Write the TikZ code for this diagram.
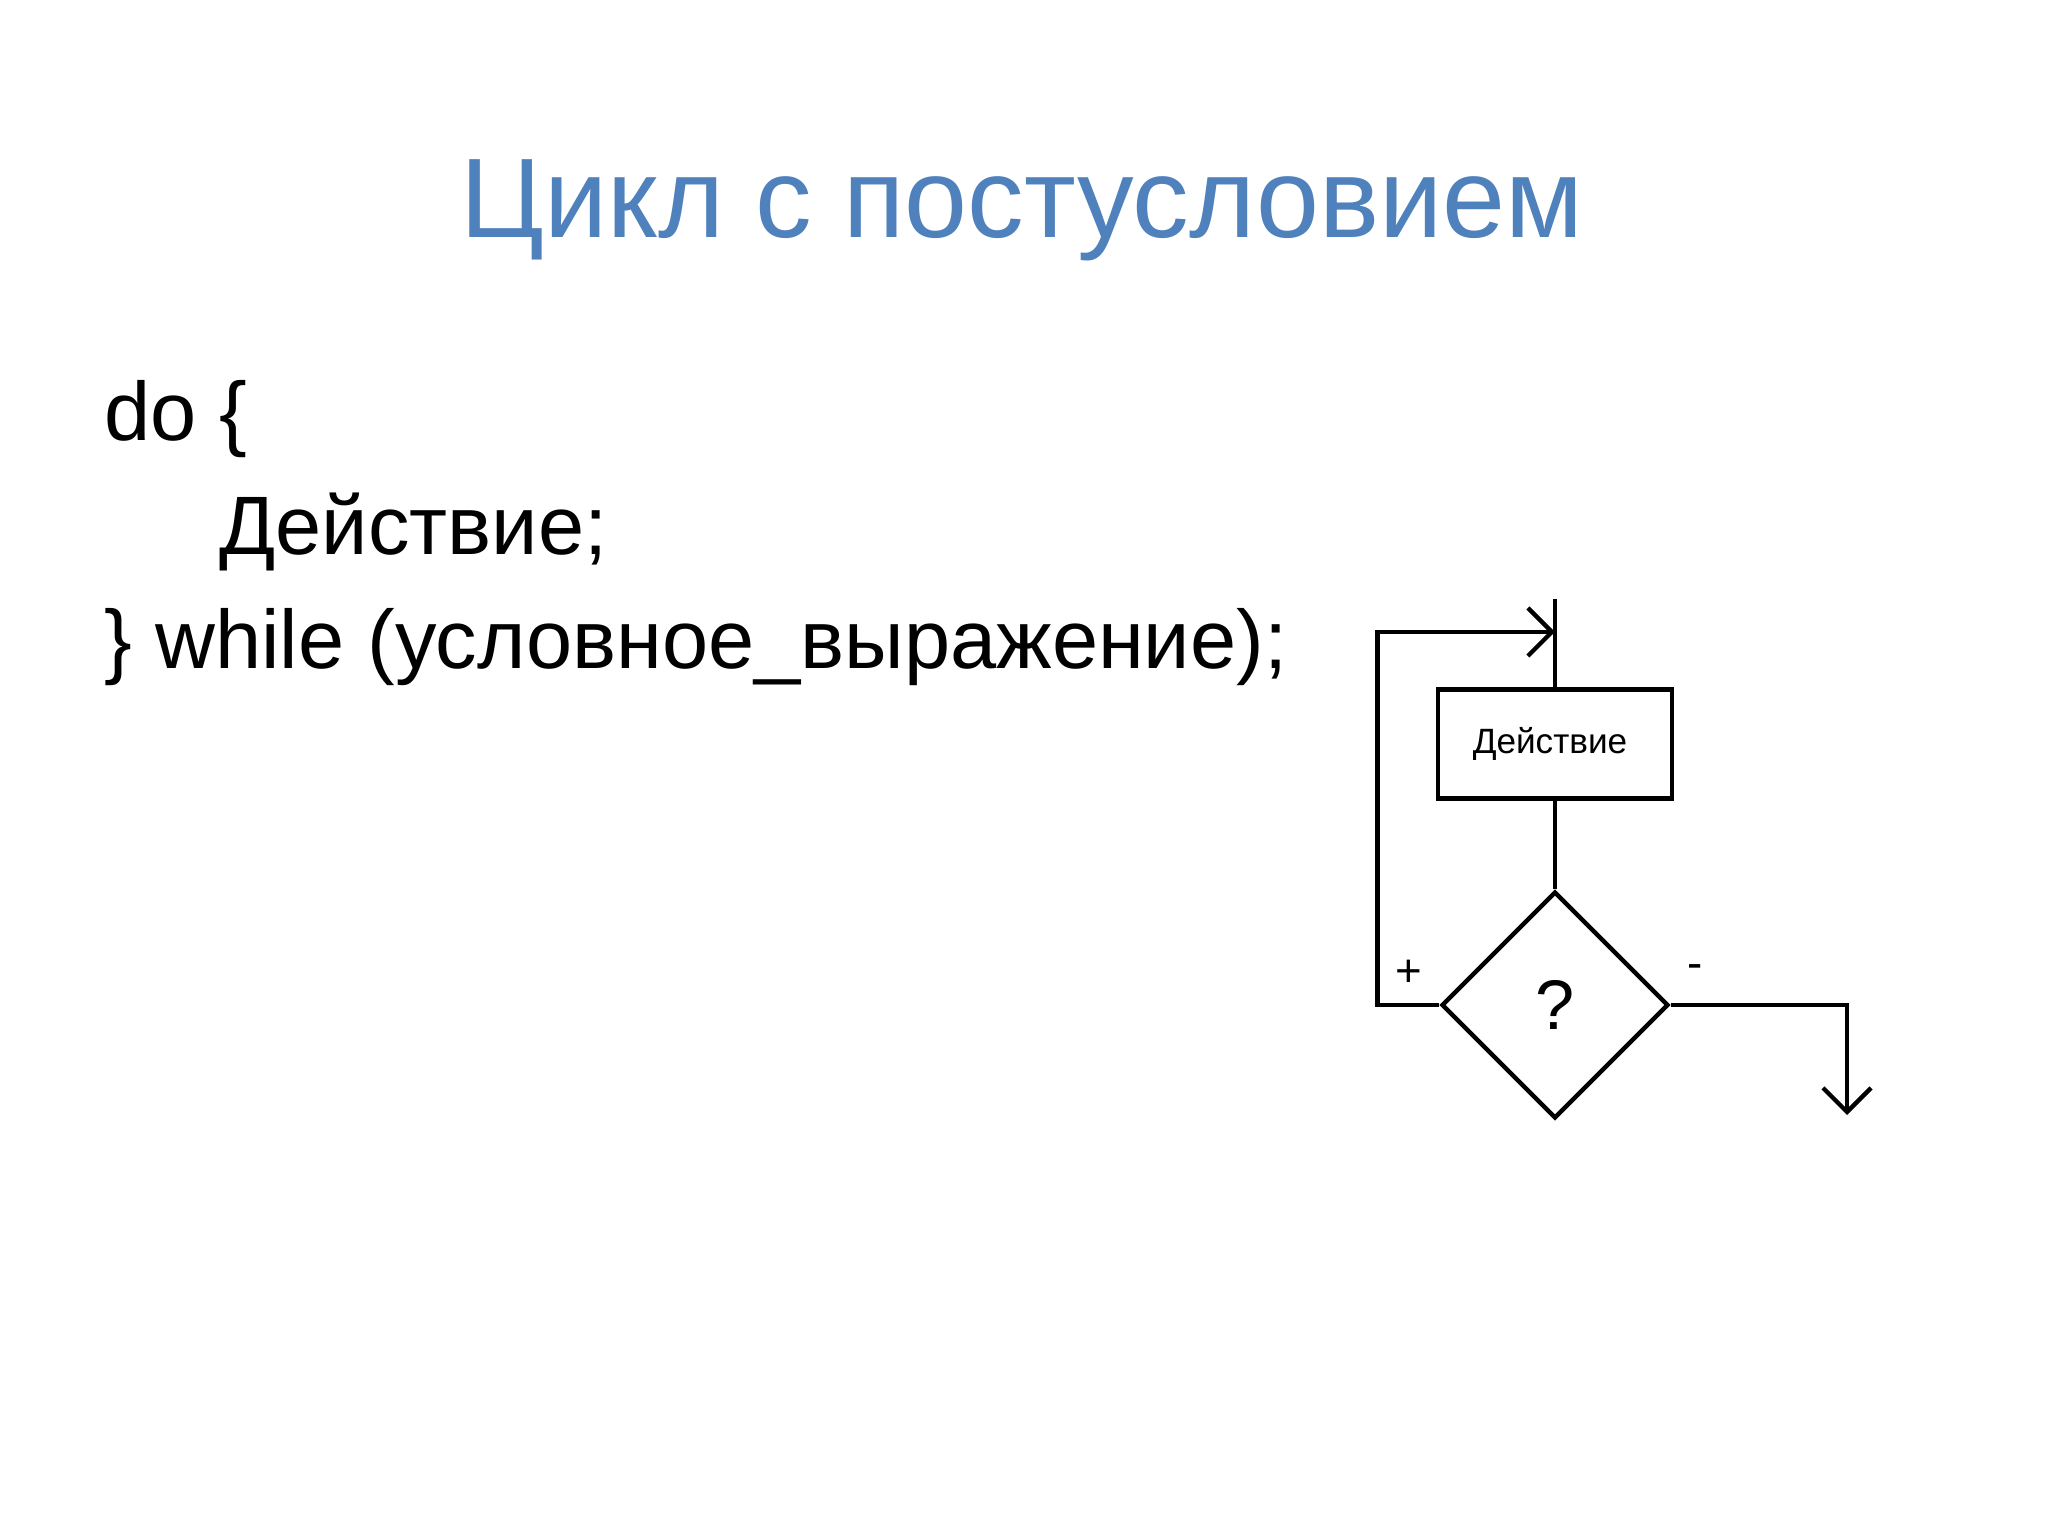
\documentclass[tikz,border=0pt]{standalone}
\usepackage{fontspec}
\setmainfont{Liberation Sans}
\usepackage{xcolor}
\usepackage{tikz}
\usetikzlibrary{shapes,arrows.meta,positioning,calc}

\definecolor{titleblue}{RGB}{79,129,189}

\begin{document}
\begin{tikzpicture}[
    block/.style={rectangle, draw=black, line width=1.25pt, minimum width=2.34cm, minimum height=1.09cm, inner sep=0pt, font=\fontsize{10}{12}\selectfont},
    decision/.style={diamond, draw=black, line width=1.25pt, minimum width=2.27cm, minimum height=2.27cm, inner sep=0pt, font=\fontsize{20}{24}\selectfont},
    code/.style={anchor=base west, inner sep=0pt, font=\fontsize{23.6}{28}\selectfont},
    sign/.style={inner sep=0pt, font=\fontsize{13}{15}\selectfont},
    line/.style={line width=1.25pt},
    arrow/.style={line width=1.25pt, -{Straight Barb[length=0.24cm, width=0.48cm]}}
]
    \useasboundingbox (0,0) rectangle (20.48,15.35);

    % Title
    \node[anchor=base, inner sep=0pt, text=titleblue, font=\fontsize{32.2}{38}\selectfont] (title) at (10.22,12.97) {Цикл с постусловием};

    % Code
    \node[code] (line1) at (1.04,10.94) {do \{};
    \node[code] (line2) at (2.19,9.80) {Действие;};
    \node[code] (line3) at (1.04,8.66) {\} while (условное\_выражение);};

    % Flowchart
    \coordinate (start) at (15.55,9.36);
    \coordinate (join) at (15.55,9.03);
    \node[block] (act) at (15.55,7.91) {\hspace*{-0.1cm}Действие};
    \node[decision] (cond) at (15.55,5.30) {?};
    \coordinate (exit) at (18.47,4.20);

    \node[sign] (yes) at ($(cond.west)+(-0.30,0.32)$) {+};
    \node[sign] (no) at ($(cond.east)+(0.24,0.33)$) {-};

    % Arrows
    \draw[line] (start) -- (act.north);
    \draw[line] (act.south) -- (cond.north);
    \draw[arrow] (cond.west) -- ++(-0.62,0) |- (join);
    \draw[arrow] (cond.east) -| (exit);
\end{tikzpicture}
\end{document}
